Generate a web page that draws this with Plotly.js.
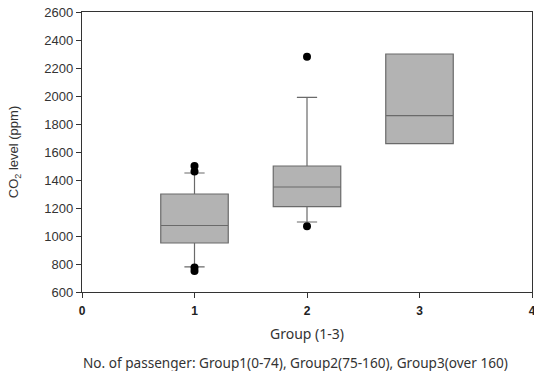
<!DOCTYPE html>
<html>
<head>
<meta charset="utf-8">
<script src="https://cdn.plot.ly/plotly-3.0.1.min.js"></script>
<style>html,body{margin:0;padding:0;background:#fff;}#chart{width:534px;height:371px;}</style>
</head>
<body>
<div id="chart"></div>
<script>
// Data
const groups = [1, 2, 3];
const q1 = [950, 1210, 1660];
const median = [1075, 1350, 1860];
const q3 = [1300, 1500, 2300];
const lowerWhisker = [780, 1100, 1660];
const upperWhisker = [1450, 1990, 2300];
const outlierGroup = [1, 1, 1, 1, 2, 2];
const outlierValue = [1500, 1460, 775, 750, 1070, 2280];
const xTicks = [0, 1, 2, 3, 4];
const yTicks = [600, 800, 1000, 1200, 1400, 1600, 1800, 2000, 2200, 2400, 2600];

const SANS = "'Liberation Sans', Arial, sans-serif";
const KFONT = "'Noto Sans', 'Open Sans', sans-serif";

const traces = [
  {
    type: 'box',
    x: groups,
    q1: q1,
    median: median,
    q3: q3,
    lowerfence: lowerWhisker,
    upperfence: upperWhisker,
    width: 0.6,
    whiskerwidth: 0.3,
    fillcolor: '#b3b3b3',
    line: {color: '#6a6a6a', width: 1.2},
    boxpoints: false,
    hoverinfo: 'skip',
    showlegend: false
  },
  {
    type: 'scatter',
    mode: 'markers',
    x: outlierGroup,
    y: outlierValue,
    marker: {color: '#000', size: 8},
    hoverinfo: 'skip',
    showlegend: false
  }
];

const layout = {
  width: 534,
  height: 371,
  margin: {l: 82, r: 2, t: 12, b: 79},
  paper_bgcolor: '#fff',
  plot_bgcolor: '#fff',
  font: {family: SANS, color: '#333', size: 12},
  xaxis: {
    range: [0, 4],
    tickvals: xTicks,
    ticktext: xTicks.map(v => '<b>' + v + '</b>'),
    ticks: 'outside',
    ticklen: 5,
    tickcolor: '#333',
    ticklabeloverflow: 'allow',
    ticklabelstandoff: 2,
    showline: true,
    linecolor: '#333',
    linewidth: 1.2,
    mirror: true,
    showgrid: false,
    zeroline: false,
    automargin: false,
    tickfont: {family: SANS, size: 12, color: '#222'},
    title: {text: 'Group (1-3)', font: {family: KFONT, size: 14, color: '#333'}, standoff: 12}
  },
  yaxis: {
    range: [600, 2600],
    tickvals: yTicks,
    ticks: 'outside',
    ticklen: 5,
    tickcolor: '#333',
    showline: true,
    linecolor: '#333',
    linewidth: 1.2,
    mirror: true,
    showgrid: false,
    zeroline: false,
    automargin: false,
    tickfont: {family: SANS, size: 13, color: '#333'},
    title: {text: 'CO<sub>2</sub> level (ppm)', font: {family: SANS, size: 13, color: '#333'}, standoff: 22}
  },
  annotations: [
    {
      text: 'No. of passenger: Group1(0-74), Group2(75-160), Group3(over 160)',
      xref: 'paper', yref: 'paper',
      x: 0.474, y: 0, yanchor: 'top', xanchor: 'center',
      yshift: -59,
      showarrow: false,
      font: {family: KFONT, size: 13.6, color: '#333'}
    }
  ]
};

Plotly.newPlot('chart', traces, layout, {displayModeBar: false, staticPlot: true});
</script>
</body>
</html>
